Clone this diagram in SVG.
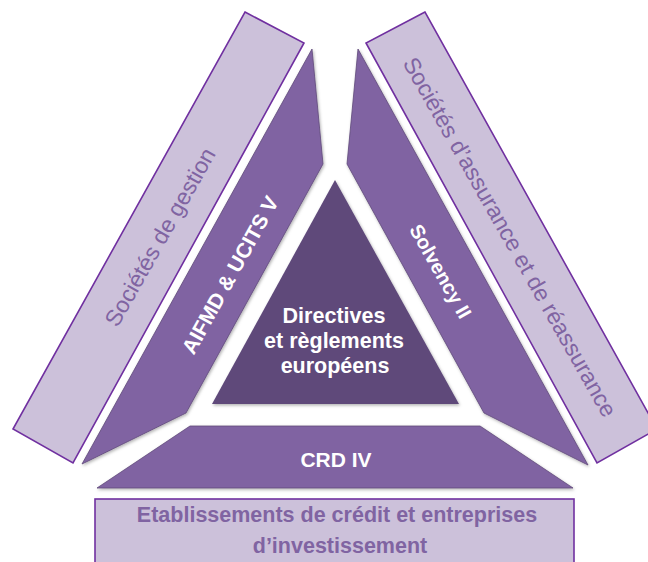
<svg xmlns="http://www.w3.org/2000/svg" width="648" height="562" viewBox="0 0 648 562">
  <defs>
    <filter id="sh" x="-10%" y="-10%" width="120%" height="120%">
      <feDropShadow dx="1" dy="1.5" stdDeviation="1.5" flood-color="#000" flood-opacity="0.3"/>
    </filter>
  </defs>
  <style>
    .outer { fill: #ccc1da; stroke: #7030a0; stroke-width: 1.6; }
    .mid { fill: #8064a2; stroke: #5f497a; stroke-width: 0.8; filter: url(#sh); }
    .core { fill: #5f497a; filter: url(#sh); }
    .lt { font-family: "Liberation Sans", Arial, sans-serif; font-size: 23px; fill: #8064a2; text-anchor: middle; }
    .wt { font-family: "Liberation Sans", Arial, sans-serif; font-size: 21px; font-weight: bold; fill: #ffffff; text-anchor: middle; }
    .ct { font-family: "Liberation Sans", Arial, sans-serif; font-size: 21.5px; font-weight: bold; fill: #ffffff; text-anchor: middle; }
    .bt { font-family: "Liberation Sans", Arial, sans-serif; font-size: 21.5px; font-weight: bold; fill: #8064a2; text-anchor: middle; }
  </style>

  <g id="societes-gestion">
    <polygon class="outer" points="245,12 304,43 73,463 13,429"/>
    <text class="lt" transform="translate(160,237) rotate(-60.5)" x="0" y="8">Sociétés de gestion</text>
  </g>

  <g id="societes-assurance">
    <polygon class="outer" points="425,12 366,43 597,463 657,429"/>
    <text class="lt" transform="translate(510,237) rotate(60.5)" x="0" y="8">Sociétés d’assurance et de réassurance</text>
  </g>

  <g id="etablissements">
    <rect class="outer" x="95" y="499" width="479" height="75"/>
    <text class="bt" x="337" y="522">Etablissements de crédit et entreprises</text>
    <text class="bt" x="340" y="553">d’investissement</text>
  </g>

  <g id="aifmd">
    <polygon class="mid" points="312,49 323,164 186,413 82,464"/>
    <text class="wt" transform="translate(230,275) rotate(-61)" x="0" y="7.5">AIFMD &amp; UCITS V</text>
  </g>

  <g id="solvency">
    <polygon class="mid" points="358,49 347,164 484,413 588,465"/>
    <text class="wt" transform="translate(441,271) rotate(60.5)" x="0" y="7.5" style="font-size:20px">Solvency II</text>
  </g>

  <g id="crd">
    <polygon class="mid" points="190,426 480,426 573,488 97,488"/>
    <text class="wt" x="336" y="467">CRD IV</text>
  </g>

  <g id="directives">
    <polygon class="core" points="335,180 459,404 212,404"/>
    <text class="ct" x="334" y="323">Directives</text>
    <text class="ct" x="334" y="348">et règlements</text>
    <text class="ct" x="335" y="373">européens</text>
  </g>

  <g id="connectors"/>
</svg>
